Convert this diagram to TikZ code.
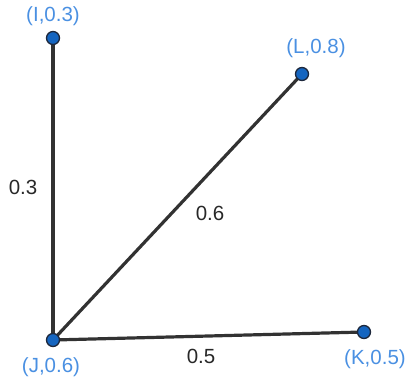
\documentclass[tikz,border=0pt]{standalone}
\usepackage{fontspec}
\setmainfont{Liberation Sans}
\begin{document}
\begin{tikzpicture}[x=1pt,y=-1pt,
  pt/.style={circle,fill={rgb,255:red,21;green,101;blue,192},draw={rgb,255:red,30;green,40;blue,60},line width=1.3pt,inner sep=0pt,minimum size=13pt},
  lbl/.style={text={rgb,255:red,74;green,144;blue,226},font=\fontsize{20.5}{24}\selectfont},
  elbl/.style={text={rgb,255:red,40;green,40;blue,40},font=\fontsize{20.5}{24}\selectfont},
  edge/.style={draw={rgb,255:red,50;green,50;blue,50},line width=3.2pt}]
\useasboundingbox (0,0) rectangle (409,383);
\coordinate (cI) at (53,38);
\coordinate (cL) at (302,74);
\coordinate (cJ) at (53,340);
\coordinate (cK) at (364,332);
\draw[edge] (cJ) -- (cI);
\draw[edge] (cJ) -- (cL);
\draw[edge] (cJ) -- (cK);
\node[pt] (I) at (cI) {};
\node[pt] (L) at (cL) {};
\node[pt] (J) at (cJ) {};
\node[pt] (K) at (cK) {};
\node[lbl] (tI) at (53,16) {(I,0.3)};
\node[lbl] (tL) at (316,48) {(L,0.8)};
\node[lbl] (tJ) at (51,367) {(J,0.6)};
\node[lbl] (tK) at (375,359) {(K,0.5)};
\node[elbl] (e1) at (23,187) {0.3};
\node[elbl] (e2) at (210,213) {0.6};
\node[elbl] (e3) at (201,356) {0.5};
\end{tikzpicture}
\end{document}
